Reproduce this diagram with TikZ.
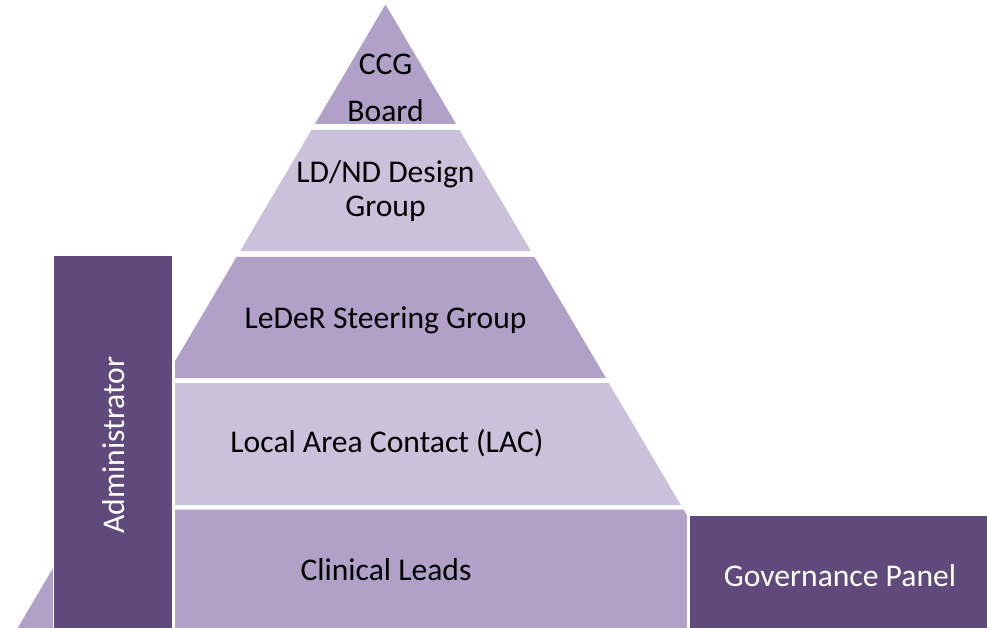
\documentclass[tikz,border=0pt]{standalone}
\usepackage{fontspec}
\setmainfont{Carlito}
\definecolor{bandmid}{HTML}{B1A0C7}
\definecolor{bandlight}{HTML}{CCC1DA}
\definecolor{panel}{HTML}{604A7B}
\begin{document}
\begin{tikzpicture}[x=1pt,y=-1pt,
  lbl/.style={inner sep=0pt, anchor=base, font=\fontsize{31.6}{38}\selectfont},
  whitelbl/.style={lbl, text=white}]
\clip (0,0) rectangle (987,628);
\fill[white] (0,0) rectangle (987,628);

% pyramid bands, apex (385.5,4.5), side slope 0.59
\fill[bandmid]   (385.5,4.5) -- (456,124) -- (315,124) -- cycle;
\fill[bandlight] (311.5,130) -- (459.5,130) -- (530.9,251) -- (240.1,251) -- cycle;
\fill[bandmid]   (236.5,257) -- (534.5,257) -- (605.9,378) -- (165.1,378) -- cycle;
\fill[bandlight] (162.2,383) -- (608.8,383) -- (680.8,505) -- (90.2,505) -- cycle;
\fill[bandmid]   (87.55,509.5) -- (683.45,509.5) -- (760.4,640) -- (10.6,640) -- cycle;

% side bars with white outlines
\fill[white] (52.5,254) rectangle (175,640);
\fill[panel] (54,256) rectangle (172,640);
\fill[white] (687,512.5) rectangle (990,640);
\fill[panel] (690,515.5) rectangle (990,640);

% labels
\node[lbl] (ccg)   at (385.5,75)  {CCG};
\node[lbl] (board) at (385.5,122) {Board};
\node[lbl] (ldnd)  at (385.5,183) {LD/ND Design};
\node[lbl] (group) at (385.5,217) {Group};
\node[lbl] (leder) at (385.5,328) {LeDeR Steering Group};
\node[lbl] (lac)   at (387,452)   {Local Area Contact (LAC)};
\node[lbl] (clin)  at (386,580)   {Clinical Leads};
\node[whitelbl] (gov) at (840,586) {Governance Panel};
\node[whitelbl, rotate=90, anchor=base] (admin) at (124.5,445) {Administrator};
\end{tikzpicture}
\end{document}
